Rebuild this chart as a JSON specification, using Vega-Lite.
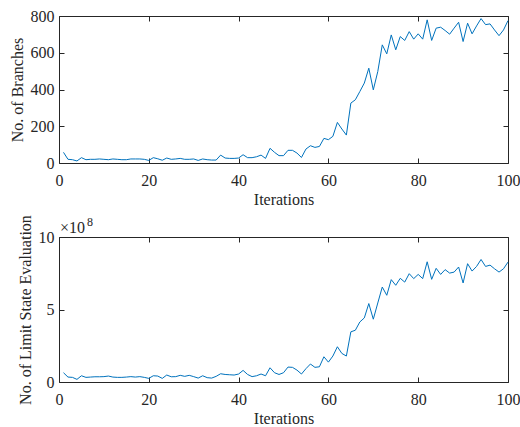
{
  "$schema": "https://vega.github.io/schema/vega-lite/v6.json",
  "padding": {"left": 8, "top": 7, "right": 0, "bottom": 0},
  "bounds": "flush",
  "spacing": 74,
  "config": {
    "view": {"stroke": "#262626", "strokeWidth": 1},
    "font": "Liberation Serif",
    "style": {
      "guide-label": {"font": "Liberation Serif", "fontSize": 16, "fill": "#262626"},
      "guide-title": {"font": "Liberation Serif", "fontSize": 16, "fill": "#262626", "fontWeight": "normal"}
    },
    "axis": {
      "labelFont": "Liberation Serif", "titleFont": "Liberation Serif",
      "labelFontSize": 16, "titleFontSize": 16, "titleFontWeight": "normal",
      "labelColor": "#262626", "titleColor": "#262626",
      "tickColor": "#262626", "domainColor": "#262626",
      "tickSize": -5, "grid": false, "domain": false, "labelFlush": false
    },
    "axisX": {"labelPadding": 14, "titlePadding": 3},
    "axisY": {"labelPadding": 10, "titlePadding": 5}
  },
  "datasets": {
    "series": [
    {"iter":1,"branches":58,"evals":64000000},{"iter":2,"branches":20,"evals":34000000},{"iter":3,"branches":18,"evals":32000000},{"iter":4,"branches":11,"evals":18000000},{"iter":5,"branches":29,"evals":43000000},
    {"iter":6,"branches":18,"evals":32000000},{"iter":7,"branches":20,"evals":34000000},{"iter":8,"branches":20,"evals":36000000},{"iter":9,"branches":22,"evals":36000000},{"iter":10,"branches":20,"evals":37000000},
    {"iter":11,"branches":18,"evals":41000000},{"iter":12,"branches":22,"evals":34000000},{"iter":13,"branches":20,"evals":32000000},{"iter":14,"branches":18,"evals":32000000},{"iter":15,"branches":18,"evals":34000000},
    {"iter":16,"branches":22,"evals":37000000},{"iter":17,"branches":22,"evals":34000000},{"iter":18,"branches":22,"evals":37000000},{"iter":19,"branches":20,"evals":32000000},{"iter":20,"branches":14,"evals":25000000},
    {"iter":21,"branches":29,"evals":43000000},{"iter":22,"branches":23,"evals":41000000},{"iter":23,"branches":15,"evals":25000000},{"iter":24,"branches":27,"evals":48000000},{"iter":25,"branches":20,"evals":36000000},
    {"iter":26,"branches":22,"evals":37000000},{"iter":27,"branches":25,"evals":46000000},{"iter":28,"branches":20,"evals":39000000},{"iter":29,"branches":20,"evals":46000000},{"iter":30,"branches":22,"evals":37000000},
    {"iter":31,"branches":14,"evals":27000000},{"iter":32,"branches":22,"evals":43000000},{"iter":33,"branches":18,"evals":30000000},{"iter":34,"branches":16,"evals":27000000},{"iter":35,"branches":16,"evals":39000000},
    {"iter":36,"branches":43,"evals":57000000},{"iter":37,"branches":27,"evals":52000000},{"iter":38,"branches":25,"evals":50000000},{"iter":39,"branches":25,"evals":48000000},{"iter":40,"branches":27,"evals":55000000},
    {"iter":41,"branches":45,"evals":80000000},{"iter":42,"branches":29,"evals":52000000},{"iter":43,"branches":29,"evals":37000000},{"iter":44,"branches":34,"evals":43000000},{"iter":45,"branches":43,"evals":55000000},
    {"iter":46,"branches":25,"evals":43000000},{"iter":47,"branches":80,"evals":98000000},{"iter":48,"branches":58,"evals":64000000},{"iter":49,"branches":40,"evals":52000000},{"iter":50,"branches":40,"evals":64000000},
    {"iter":51,"branches":69,"evals":103000000},{"iter":52,"branches":69,"evals":101000000},{"iter":53,"branches":54,"evals":82000000},{"iter":54,"branches":30,"evals":55000000},{"iter":55,"branches":76,"evals":92000000},
    {"iter":56,"branches":94,"evals":124000000},{"iter":57,"branches":85,"evals":101000000},{"iter":58,"branches":90,"evals":105000000},{"iter":59,"branches":134,"evals":174000000},{"iter":60,"branches":127,"evals":137000000},
    {"iter":61,"branches":145,"evals":179000000},{"iter":62,"branches":221,"evals":243000000},{"iter":63,"branches":185,"evals":197000000},{"iter":64,"branches":152,"evals":179000000},{"iter":65,"branches":326,"evals":346000000},
    {"iter":66,"branches":344,"evals":357000000},{"iter":67,"branches":389,"evals":414000000},{"iter":68,"branches":435,"evals":442000000},{"iter":69,"branches":516,"evals":541000000},{"iter":70,"branches":398,"evals":433000000},
    {"iter":71,"branches":498,"evals":545000000},{"iter":72,"branches":643,"evals":655000000},{"iter":73,"branches":594,"evals":598000000},{"iter":74,"branches":697,"evals":706000000},{"iter":75,"branches":616,"evals":667000000},
    {"iter":76,"branches":688,"evals":715000000},{"iter":77,"branches":667,"evals":689000000},{"iter":78,"branches":715,"evals":747000000},{"iter":79,"branches":674,"evals":713000000},{"iter":80,"branches":703,"evals":742000000},
    {"iter":81,"branches":674,"evals":713000000},{"iter":82,"branches":779,"evals":829000000},{"iter":83,"branches":667,"evals":708000000},{"iter":84,"branches":734,"evals":784000000},{"iter":85,"branches":739,"evals":742000000},
    {"iter":86,"branches":721,"evals":775000000},{"iter":87,"branches":701,"evals":751000000},{"iter":88,"branches":734,"evals":758000000},{"iter":89,"branches":766,"evals":793000000},{"iter":90,"branches":661,"evals":683000000},
    {"iter":91,"branches":761,"evals":816000000},{"iter":92,"branches":703,"evals":765000000},{"iter":93,"branches":746,"evals":797000000},{"iter":94,"branches":786,"evals":845000000},{"iter":95,"branches":753,"evals":797000000},
    {"iter":96,"branches":757,"evals":806000000},{"iter":97,"branches":724,"evals":781000000},{"iter":98,"branches":693,"evals":758000000},{"iter":99,"branches":724,"evals":781000000},{"iter":100,"branches":775,"evals":827000000}
    ],
    "exponent": [{"base": "×10", "exp": "8"}]
  },
  "data": {"name": "series"},
  "vconcat": [
    {
      "width": 449, "height": 147,
      "layer": [
        {
          "mark": {"type": "line", "color": "#0072BD", "strokeWidth": 1},
          "encoding": {
            "x": {"field": "iter", "type": "quantitative", "scale": {"domain": [0, 100], "nice": false},
                  "axis": {"title": "Iterations", "values": [0, 20, 40, 60, 80, 100]}},
            "y": {"field": "branches", "type": "quantitative", "scale": {"domain": [0, 800], "nice": false},
                  "axis": {"title": "No. of Branches", "values": [0, 200, 400, 600, 800]}}
          }
        },
        {
          "mark": {"type": "line", "opacity": 0},
          "encoding": {
            "x": {"field": "iter", "type": "quantitative", "axis": {"orient": "top", "labels": false, "title": null, "values": [0, 20, 40, 60, 80, 100]}},
            "y": {"field": "branches", "type": "quantitative", "axis": {"orient": "right", "labels": false, "title": null, "values": [0, 200, 400, 600, 800]}}
          }
        }
      ],
      "resolve": {"axis": {"x": "independent", "y": "independent"}}
    },
    {
      "width": 449, "height": 145,
      "layer": [
        {
          "mark": {"type": "line", "color": "#0072BD", "strokeWidth": 1},
          "encoding": {
            "x": {"field": "iter", "type": "quantitative", "scale": {"domain": [0, 100], "nice": false},
                  "axis": {"title": "Iterations", "values": [0, 20, 40, 60, 80, 100]}},
            "y": {"field": "evals", "type": "quantitative", "scale": {"domain": [0, 1000000000], "nice": false},
                  "axis": {"title": "No. of Limit State Evaluation", "values": [0, 500000000, 1000000000], "labelExpr": "datum.value / 100000000"}}
          }
        },
        {
          "mark": {"type": "line", "opacity": 0},
          "encoding": {
            "x": {"field": "iter", "type": "quantitative", "axis": {"orient": "top", "labels": false, "title": null, "values": [0, 20, 40, 60, 80, 100]}},
            "y": {"field": "evals", "type": "quantitative", "axis": {"orient": "right", "labels": false, "title": null, "values": [0, 500000000, 1000000000]}}
          }
        },
        {
          "data": {"name": "exponent"},
          "mark": {"type": "text", "align": "left", "baseline": "alphabetic", "dx": 1, "dy": -4, "font": "Liberation Serif", "fontSize": 16, "color": "#262626"},
          "encoding": {
            "x": {"datum": 0, "type": "quantitative", "axis": null},
            "y": {"datum": 1000000000, "type": "quantitative", "axis": null},
            "text": {"field": "base"}
          }
        },
        {
          "data": {"name": "exponent"},
          "mark": {"type": "text", "align": "left", "baseline": "alphabetic", "dx": 28, "dy": -11, "font": "Liberation Serif", "fontSize": 12, "color": "#262626"},
          "encoding": {
            "x": {"datum": 0, "type": "quantitative", "axis": null},
            "y": {"datum": 1000000000, "type": "quantitative", "axis": null},
            "text": {"field": "exp"}
          }
        }
      ],
      "resolve": {"axis": {"x": "independent", "y": "independent"}}
    }
  ]
}
